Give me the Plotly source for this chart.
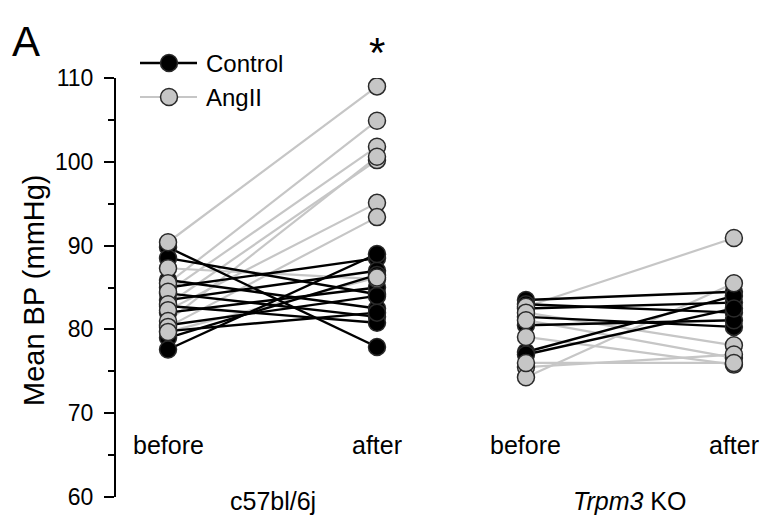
import plotly.graph_objects as go

# ---- data (Mean BP, mmHg) ----
conditions = ["before", "after"]
groups = ["c57bl/6j", "<i>Trpm3</i> KO"]
legend_names = ["Control", "AngII"]

wt_ctrl_before = [89.8, 88.5, 85.9, 85.0, 84.3, 83.5, 82.8, 82.0, 80.5, 79.8, 79.0, 77.6]
wt_ctrl_after  = [77.9, 84.2, 82.5, 88.5, 81.5, 87.0, 80.8, 85.0, 84.0, 82.0, 86.5, 89.0]

wt_ang_before = [90.4, 87.3, 85.5, 84.5, 83.0, 82.3, 81.0, 80.3, 79.7]
wt_ang_after  = [109.0, 86.0, 104.9, 101.8, 100.2, 95.1, 100.6, 93.4, 86.2]

ko_ctrl_before = [83.5, 83.0, 82.5, 81.5, 80.5, 77.3, 77.0]
ko_ctrl_after  = [84.5, 82.0, 83.2, 80.3, 81.1, 84.0, 82.5]

ko_ang_before = [82.7, 82.0, 81.1, 79.1, 75.5, 74.3, 76.0]
ko_ang_after  = [90.9, 78.1, 76.6, 75.8, 77.0, 85.5, 76.0]

y_ticks = [60, 70, 80, 90, 100, 110]

# ---- layout constants ----
POS = {"wt": (0.0, 1.0), "ko": (1.713, 2.708)}
BLACK = "#000000"
GRAY = "#c6c6c6"
EDGE = "#2a2a2a"
FONT = "Liberation Sans, Arial, sans-serif"

# plot area in page pixels (page body has an 8px margin)
PL, PR, PT, PB = 116, 755, 78, 497


def px_x(p):
    return (p - PL) / (PR - PL)


def px_y(p):
    return (PB - p) / (PB - PT)


def pair_xy(before, after, pos):
    xs, ys = [], []
    for b, a in zip(before, after):
        xs += [pos[0], pos[1], None]
        ys += [b, a, None]
    return xs, ys


def marker_xy(before, after, pos):
    xs = [pos[0]] * len(before) + [pos[1]] * len(after)
    ys = list(before) + list(after)
    return xs, ys


fig = go.Figure()

sets = {
    "ang": [(wt_ang_before, wt_ang_after, POS["wt"]), (ko_ang_before, ko_ang_after, POS["ko"])],
    "ctrl": [(wt_ctrl_before, wt_ctrl_after, POS["wt"]), (ko_ctrl_before, ko_ctrl_after, POS["ko"])],
}

for key, color, lw in [("ang", GRAY, 2.2), ("ctrl", BLACK, 2.4)]:
    X, Y = [], []
    for b, a, p in sets[key]:
        x, y = pair_xy(b, a, p)
        X += x
        Y += y
    fig.add_trace(go.Scatter(x=X, y=Y, mode="lines", line=dict(color=color, width=lw),
                             showlegend=False, hoverinfo="skip"))

for key, color in [("ctrl", BLACK), ("ang", GRAY)]:
    X, Y = [], []
    for b, a, p in sets[key]:
        x, y = marker_xy(b, a, p)
        X += x
        Y += y
    fig.add_trace(go.Scatter(x=X, y=Y, mode="markers",
                             marker=dict(size=17, color=color, line=dict(color=EDGE, width=1.5)),
                             showlegend=False))

annotations = []
shapes = []

# custom legend
for name, color, lw, row_y in [(legend_names[0], BLACK, 2.5, 63), (legend_names[1], GRAY, 2, 97)]:
    yy = px_y(row_y)
    shapes.append(dict(type="line", xref="paper", yref="paper", x0=px_x(140), x1=px_x(197),
                       y0=yy, y1=yy, line=dict(color=color, width=lw)))
    shapes.append(dict(type="circle", xref="paper", yref="paper", xsizemode="pixel",
                       ysizemode="pixel", xanchor=px_x(169), yanchor=yy,
                       x0=-8.5, x1=8.5, y0=-8.5, y1=8.5,
                       fillcolor=color, line=dict(color=EDGE, width=1.5)))
    annotations.append(dict(x=px_x(204), y=yy, xref="paper", yref="paper", text=name,
                            showarrow=False, font=dict(size=24, color="black", family=FONT),
                            xanchor="left", yanchor="middle"))

for key, gname in zip(["wt", "ko"], groups):
    p = POS[key]
    for xi, c in zip(p, conditions):
        annotations.append(dict(x=xi, y=66.2, xref="x", yref="y", text=c, showarrow=False,
                                font=dict(size=25, color="black", family=FONT),
                                xanchor="center", yanchor="middle"))
    annotations.append(dict(x=(p[0] + p[1]) / 2, y=0, xref="x", yref="paper", text=gname,
                            showarrow=False, font=dict(size=25, color="black", family=FONT),
                            xanchor="center", yanchor="middle", yshift=-4))

annotations.append(dict(x=px_x(26), y=px_y(41), xref="paper", yref="paper", text="A",
                        showarrow=False, font=dict(size=42, color="black", family=FONT),
                        xanchor="center", yanchor="middle"))
annotations.append(dict(x=POS["wt"][1], y=1.06, xref="x", yref="paper", text="*", showarrow=False,
                        font=dict(size=42, color="black", family=FONT),
                        xanchor="center", yanchor="middle"))
annotations.append(dict(x=0, y=px_y(290), xref="paper", yref="paper", text="Mean BP (mmHg)",
                        showarrow=False, textangle=-90, xshift=-82,
                        font=dict(size=29, color="black", family=FONT),
                        xanchor="center", yanchor="middle"))

fig.update_layout(
    width=767, height=514,
    margin=dict(l=PL - 8, r=8 + 767 - PR, t=PT - 8, b=8 + 514 - PB),
    paper_bgcolor="white", plot_bgcolor="white",
    font=dict(family=FONT, size=22, color="black"),
    showlegend=False,
    annotations=annotations,
    shapes=shapes,
    xaxis=dict(range=[-0.249, 2.809], visible=False, fixedrange=True),
    yaxis=dict(range=[60, 110], tickvals=y_ticks, ticks="outside", ticklen=10, tickwidth=2,
               tickcolor="black", showline=True, linecolor="black", linewidth=2,
               showgrid=False, zeroline=False, ticklabelstandoff=6,
               tickfont=dict(size=23, family=FONT, color="black"),
               minor=dict(dtick=5, tick0=60, ticks="outside", ticklen=6, tickwidth=2,
                          tickcolor="black", showgrid=False)),
)

fig.write_html("out.html")
